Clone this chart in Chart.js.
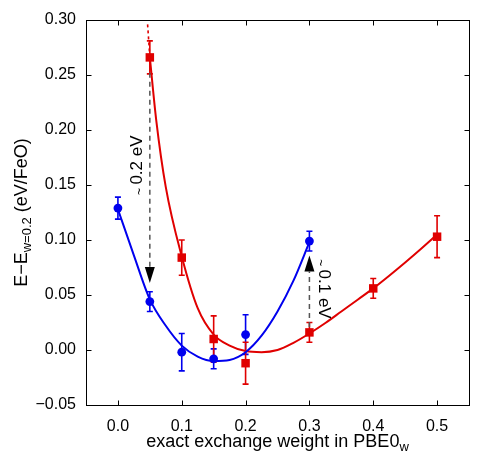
<!DOCTYPE html>
<html>
<head>
<meta charset="utf-8">
<script src="https://cdn.jsdelivr.net/npm/chart.js@4.4.0/dist/chart.umd.min.js"></script>
<style>
html, body { margin: 0; padding: 0; background: #fff; }
</style>
</head>
<body>
<canvas id="grafico" width="500" height="454"></canvas>
<script>
//assi
const xTicks = [0, 0.1, 0.2, 0.3, 0.4, 0.5];
const xTickLabels = ['0.0', '0.1', '0.2', '0.3', '0.4', '0.5'];
const yTicks = [-0.05, 0, 0.05, 0.10, 0.15, 0.20, 0.25, 0.30];
const yTickLabels = ['\u22120.05', '0.00', '0.05', '0.10', '0.15', '0.20', '0.25', '0.30'];

//serie blu (punti + errori)
const xBlue = [0.0, 0.05, 0.1, 0.15, 0.2, 0.3];
const yBlue = [0.129, 0.044, -0.002, -0.008, 0.014, 0.099];
const eBlue = [0.010, 0.009, 0.017, 0.009, 0.018, 0.009];

//serie rossa (punti + errori)
const xRed = [0.05, 0.1, 0.15, 0.2, 0.3, 0.4, 0.5];
const yRed = [0.266, 0.084, 0.010, -0.012, 0.016, 0.056, 0.103];
const eRed = [0.015, 0.016, 0.021, 0.019, 0.009, 0.009, 0.019];

//curve di fit
const xFitBlue = [0, 0.025, 0.05, 0.075, 0.1, 0.125, 0.15, 0.175, 0.2, 0.225, 0.25, 0.275, 0.3];
const yFitBlue = [0.128, 0.086, 0.046, 0.022, 0.004, -0.006, -0.010, -0.009, -0.002, 0.013, 0.035, 0.063, 0.098];
const xFitRed = [0.05, 0.06, 0.075, 0.1, 0.125, 0.15, 0.175, 0.2, 0.225, 0.25, 0.275, 0.3, 0.325, 0.35, 0.375, 0.4, 0.425, 0.45, 0.475, 0.5];
const yFitRed = [0.266, 0.209, 0.148, 0.085, 0.038, 0.014, 0.004, -0.001, -0.002, 0.000, 0.0065, 0.015, 0.0245, 0.035, 0.0455, 0.056, 0.0675, 0.0795, 0.092, 0.105];
const xFitRedDash = [0.0465, 0.05];
const yFitRedDash = [0.296, 0.266];

const BLU = '#0000ee';
const ROSSO = '#e00000';
const FONT = "'Liberation Sans', Arial, sans-serif";

function punti(xx, yy) {
	return xx.map((v, i) => ({ x: v, y: yy[i] }));
}

//barre d'errore
const barreErrore = {
	id: 'barreErrore',
	beforeDatasetsDraw(chart) {
		const ctx = chart.ctx;
		const x = chart.scales.x, y = chart.scales.y;
		function disegna(xx, yy, ee, col) {
			ctx.strokeStyle = col;
			ctx.lineWidth = 1.6;
			ctx.beginPath();
			for (let i = 0; i < xx.length; i++) {
				const px = x.getPixelForValue(xx[i]);
				const y1 = y.getPixelForValue(yy[i] - ee[i]);
				const y2 = y.getPixelForValue(yy[i] + ee[i]);
				ctx.moveTo(px, y1); ctx.lineTo(px, y2);
				ctx.moveTo(px - 3, y1); ctx.lineTo(px + 3, y1);
				ctx.moveTo(px - 3, y2); ctx.lineTo(px + 3, y2);
			}
			ctx.stroke();
		}
		ctx.save();
		disegna(xBlue, yBlue, eBlue, BLU);
		disegna(xRed, yRed, eRed, ROSSO);
		ctx.restore();
	}
};

//frecce e scritte
const frecce = {
	id: 'frecce',
	afterDatasetsDraw(chart) {
		const ctx = chart.ctx;
		const x = chart.scales.x, y = chart.scales.y;
		ctx.save();

		function freccia(xv, yDa, yPunta) {
			const px = x.getPixelForValue(xv);
			const pDa = y.getPixelForValue(yDa);
			const pPunta = y.getPixelForValue(yPunta);
			const dir = pPunta > pDa ? 1 : -1;
			const base = pPunta - dir * 16;
			ctx.strokeStyle = '#555';
			ctx.lineWidth = 1.5;
			ctx.setLineDash([5, 4]);
			ctx.beginPath();
			ctx.moveTo(px, pDa);
			ctx.lineTo(px, base);
			ctx.stroke();
			ctx.setLineDash([]);
			ctx.fillStyle = '#000';
			ctx.beginPath();
			ctx.moveTo(px, pPunta);
			ctx.lineTo(px - 5, base);
			ctx.lineTo(px + 5, base);
			ctx.closePath();
			ctx.fill();
		}
		freccia(0.05, 0.252, 0.061);
		freccia(0.3, 0.021, 0.086);

		function scritta(cx, cy, rot, testo) {
			ctx.save();
			ctx.translate(cx, cy);
			ctx.rotate(rot);
			ctx.fillStyle = '#000';
			ctx.textBaseline = 'middle';
			ctx.font = '12px ' + FONT;
			const wT = ctx.measureText('~ ').width;
			ctx.font = '17px ' + FONT;
			const wR = ctx.measureText(testo).width;
			let sx = -(wT + wR) / 2;
			ctx.font = '12px ' + FONT;
			ctx.fillText('~ ', sx, 3);
			ctx.font = '17px ' + FONT;
			ctx.fillText(testo, sx + wT, 0);
			ctx.restore();
		}
		scritta(x.getPixelForValue(0.05) - 13, y.getPixelForValue(0.168), -Math.PI / 2, '0.2 eV');
		scritta(x.getPixelForValue(0.3) + 14, y.getPixelForValue(0.0555), Math.PI / 2, '0.1 eV');
		ctx.restore();
	}
};

//cornice, tacche interne e titoli con pedici
const cornice = {
	id: 'cornice',
	afterDraw(chart) {
		const ctx = chart.ctx;
		const a = chart.chartArea;
		const x = chart.scales.x, y = chart.scales.y;
		const L = Math.round(a.left) + 0.5, R = Math.round(a.right) + 0.5;
		const T = Math.round(a.top) + 0.5, B = Math.round(a.bottom) + 0.5;
		ctx.save();
		ctx.strokeStyle = '#000';
		ctx.lineWidth = 1;
		ctx.strokeRect(L, T, R - L, B - T);
		ctx.beginPath();
		xTicks.forEach(v => {
			const px = Math.round(x.getPixelForValue(v)) + 0.5;
			ctx.moveTo(px, B); ctx.lineTo(px, B - 5);
			ctx.moveTo(px, T); ctx.lineTo(px, T + 5);
		});
		yTicks.forEach(v => {
			const py = Math.round(y.getPixelForValue(v)) + 0.5;
			ctx.moveTo(L, py); ctx.lineTo(L + 5, py);
			ctx.moveTo(R, py); ctx.lineTo(R - 5, py);
		});
		ctx.stroke();

		function pezzi(lista) {
			let w = 0;
			lista.forEach(p => { ctx.font = p[1] + 'px ' + FONT; p.w = ctx.measureText(p[0]).width; w += p.w; });
			let sx = -w / 2;
			lista.forEach(p => {
				ctx.font = p[1] + 'px ' + FONT;
				ctx.fillText(p[0], sx, p[2]);
				sx += p.w;
			});
		}
		ctx.fillStyle = '#000';
		ctx.textBaseline = 'alphabetic';
		ctx.textAlign = 'left';

		//titolo asse x
		ctx.save();
		ctx.translate((a.left + a.right) / 2, 447);
		pezzi([['exact exchange weight in PBE0', 18, 0], ['w', 13, 4]]);
		ctx.restore();

		//titolo asse y
		ctx.save();
		ctx.translate(27, (a.top + a.bottom) / 2);
		ctx.rotate(-Math.PI / 2);
		pezzi([['E\u2212E', 18, 0], ['w=0.2', 13, 4], [' (eV/FeO)', 18, 0]]);
		ctx.restore();

		ctx.restore();
	}
};

window.onload = function () {
	new Chart(document.getElementById('grafico'), {
		type: 'scatter',
		data: {
			datasets: [
				{ data: punti(xBlue, yBlue), pointStyle: 'circle', radius: 4.4, backgroundColor: BLU, borderColor: BLU, borderWidth: 0 },
				{ data: punti(xRed, yRed), pointStyle: 'rect', radius: 6, backgroundColor: ROSSO, borderColor: ROSSO, borderWidth: 0 },
				{ data: punti(xFitBlue, yFitBlue), showLine: true, pointRadius: 0, borderColor: BLU, borderWidth: 2, cubicInterpolationMode: 'monotone' },
				{ data: punti(xFitRed, yFitRed), showLine: true, pointRadius: 0, borderColor: ROSSO, borderWidth: 2, cubicInterpolationMode: 'monotone' },
				{ data: punti(xFitRedDash, yFitRedDash), showLine: true, pointRadius: 0, borderColor: ROSSO, borderWidth: 1.6, borderDash: [3, 3] }
			]
		},
		options: {
			responsive: false,
			animation: false,
			devicePixelRatio: 1,
			layout: { padding: { top: 20, right: 31, left: 0, bottom: 0 } },
			plugins: { legend: { display: false }, tooltip: { enabled: false } },
			scales: {
				x: {
					type: 'linear', min: -0.05, max: 0.55,
					afterBuildTicks: s => { s.ticks = xTicks.map(v => ({ value: v })); },
					afterFit: s => { s.height = 49; },
					grid: { display: false, drawTicks: false },
					border: { display: false },
					ticks: { callback: (v, i) => xTickLabels[i], color: '#000', padding: 12, font: { family: FONT, size: 16 }, maxRotation: 0 }
				},
				y: {
					type: 'linear', min: -0.05, max: 0.30,
					afterBuildTicks: s => { s.ticks = yTicks.map(v => ({ value: v })); },
					afterFit: s => { s.width = 86; },
					grid: { display: false, drawTicks: false },
					border: { display: false },
					ticks: { callback: (v, i) => yTickLabels[i], color: '#000', padding: 10, font: { family: FONT, size: 16 } }
				}
			}
		},
		plugins: [barreErrore, frecce, cornice]
	});
};
</script>
</body>
</html>
